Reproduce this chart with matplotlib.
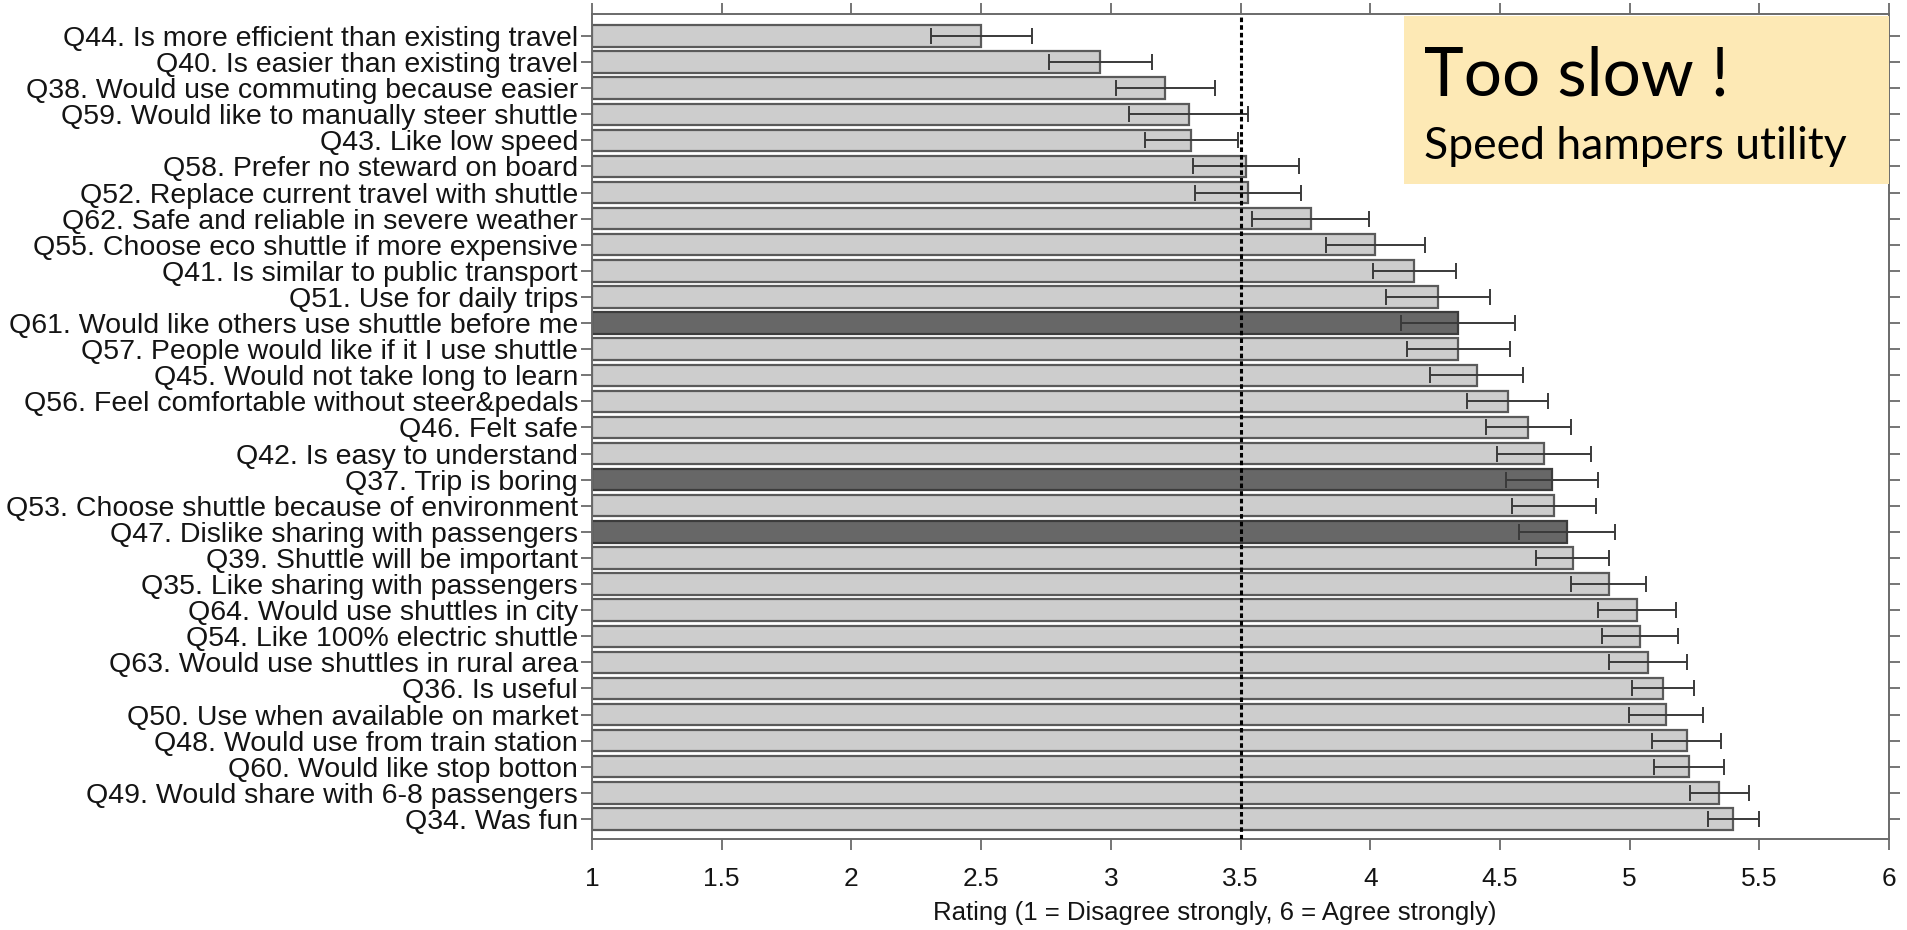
import numpy as np
import matplotlib
matplotlib.use("Agg")
import matplotlib.pyplot as plt
from matplotlib.patches import Rectangle

# questions, top to bottom as in the figure
questions = [
    "Q44. Is more efficient than existing travel",
    "Q40. Is easier than existing travel",
    "Q38. Would use commuting because easier",
    "Q59. Would like to manually steer shuttle",
    "Q43. Like low speed",
    "Q58. Prefer no steward on board",
    "Q52. Replace current travel with shuttle",
    "Q62. Safe and reliable in severe weather",
    "Q55. Choose eco shuttle if more expensive",
    "Q41. Is similar to public transport",
    "Q51. Use for daily trips",
    "Q61. Would like others use shuttle before me",
    "Q57. People would like if it I use shuttle",
    "Q45. Would not take long to learn",
    "Q56. Feel comfortable without steer&pedals",
    "Q46. Felt safe",
    "Q42. Is easy to understand",
    "Q37. Trip is boring",
    "Q53. Choose shuttle because of environment",
    "Q47. Dislike sharing with passengers",
    "Q39. Shuttle will be important",
    "Q35. Like sharing with passengers",
    "Q64. Would use shuttles in city",
    "Q54. Like 100% electric shuttle",
    "Q63. Would use shuttles in rural area",
    "Q36. Is useful",
    "Q50. Use when available on market",
    "Q48. Would use from train station",
    "Q60. Would like stop botton",
    "Q49. Would share with 6-8 passengers",
    "Q34. Was fun",
]

mean_rating = [2.50, 2.96, 3.21, 3.30, 3.31, 3.52, 3.53, 3.77, 4.02, 4.17, 4.26,
               4.34, 4.34, 4.41, 4.53, 4.61, 4.67, 4.70, 4.71, 4.76, 4.78, 4.92,
               5.03, 5.04, 5.07, 5.13, 5.14, 5.22, 5.23, 5.345, 5.40]

err = [0.195, 0.20, 0.19, 0.23, 0.18, 0.205, 0.204, 0.225, 0.19, 0.16, 0.20,
       0.22, 0.20, 0.18, 0.155, 0.163, 0.183, 0.177, 0.162, 0.185, 0.14, 0.144,
       0.15, 0.147, 0.15, 0.12, 0.142, 0.134, 0.135, 0.114, 0.098]

# negatively worded items drawn dark
negative = ["Q61", "Q37", "Q47"]

xticks = [1, 1.5, 2, 2.5, 3, 3.5, 4, 4.5, 5, 5.5, 6]
xtick_labels = ["1", "1.5", "2", "2.5", "3", "3.5", "4", "4.5", "5", "5.5", "6"]

fig = plt.figure(figsize=(19.07, 9.3), dpi=100)
ax = fig.add_axes([592 / 1907, 1 - 839 / 930, (1889 - 592) / 1907, (839 - 14) / 930])

pos = np.arange(len(questions))
colors = ["#676767" if q.split(".")[0] in negative else "#cdcdcd" for q in questions]
edges = ["#3c3c3c" if q.split(".")[0] in negative else "#5a5a5a" for q in questions]

ax.barh(pos, np.array(mean_rating) - 1, left=1, height=0.82, color=colors,
        edgecolor=edges, linewidth=1.6, zorder=2)
ax.errorbar(mean_rating, pos, xerr=err, fmt="none", ecolor="#3a3a3a",
            elinewidth=1.4, capsize=6, capthick=1.4, zorder=3)

# midpoint of the scale
ax.axvline(3.5, color="black", linestyle=(0, (1.5, 1)), linewidth=2.2, zorder=4)

ax.set_xlim(1, 6)
ax.set_ylim(30.77, -0.84)
ax.set_xticks(xticks)
ax.set_xticklabels(xtick_labels)
ax.set_yticks(pos)
ax.set_yticklabels(questions)

for s in ax.spines.values():
    s.set_color("#6a6a6a")
    s.set_linewidth(1.4)
ax.tick_params(axis="both", direction="out", length=8, width=1.3, color="#6a6a6a",
               top=True, right=True, labeltop=False, labelright=False)
ax.tick_params(axis="y", labelsize=20.5, pad=2)
ax.tick_params(axis="x", labelsize=19, pad=12)
for lab in ax.get_yticklabels() + ax.get_xticklabels():
    lab.set_family("Liberation Sans")
    lab.set_color("#141414")

ax.set_xlabel("Rating (1 = Disagree strongly, 6 = Agree strongly)",
              fontsize=18.5, family="Liberation Sans", color="#141414")
ax.xaxis.set_label_coords(0.48, -0.075)

# comment box
box = Rectangle((1404 / 1907, 1 - 184 / 930), (1889 - 1404) / 1907, (184 - 16) / 930,
                transform=fig.transFigure, facecolor="#fde9b5", edgecolor="none", zorder=5)
fig.patches.append(box)
fig.text(1424 / 1907, 1 - 95 / 930, "Too slow !", fontsize=48.5, family="Lato",
         va="baseline", ha="left", zorder=6)
fig.text(1424 / 1907, 1 - 159 / 930, "Speed hampers utility", fontsize=32,
         family="Lato", va="baseline", ha="left", zorder=6)

fig.savefig("out.png", dpi=100)
